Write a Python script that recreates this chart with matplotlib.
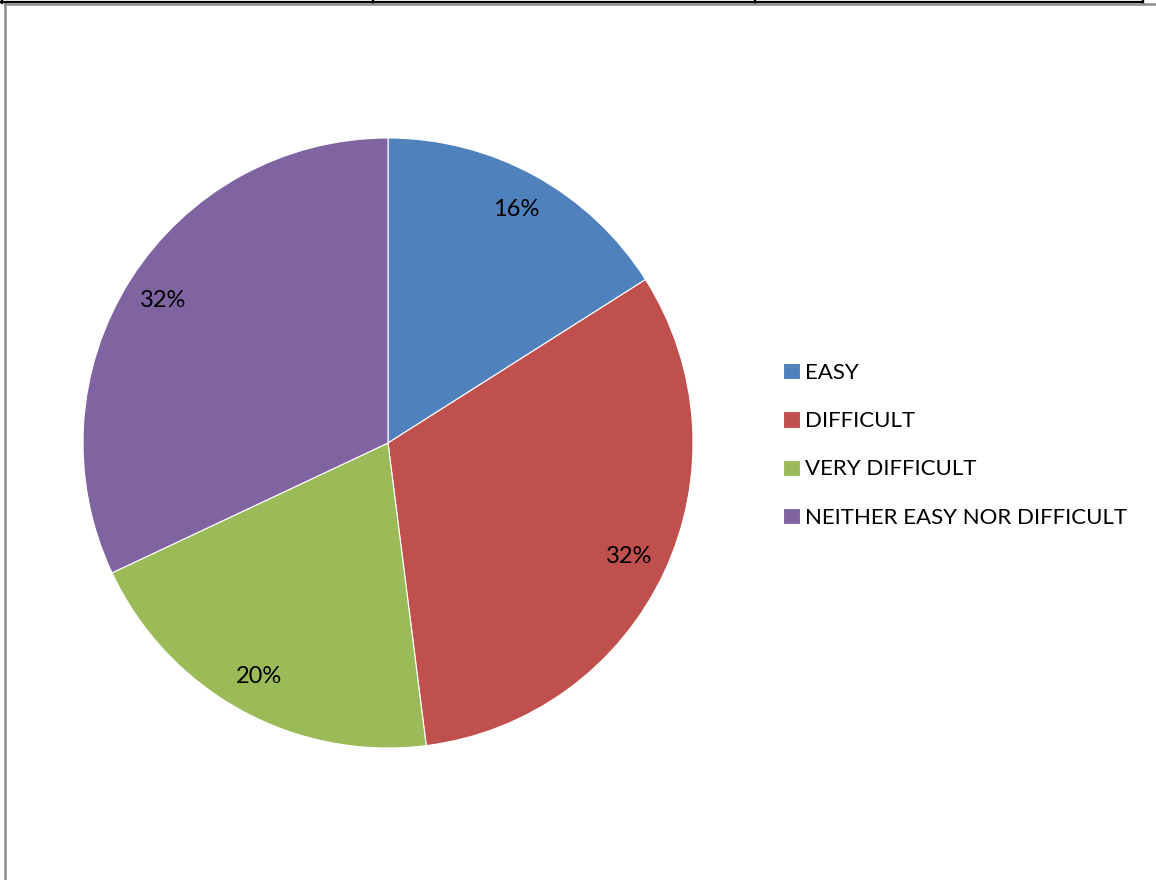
import matplotlib
matplotlib.use("Agg")
import matplotlib.pyplot as plt
from matplotlib.lines import Line2D

W, H = 1156, 880

categories = ["EASY", "DIFFICULT", "VERY DIFFICULT", "NEITHER EASY NOR DIFFICULT"]
shares = [16, 32, 20, 32]
colors = ["#4F81BD", "#C0504D", "#9BBB59", "#8064A2"]

plt.rcParams["font.family"] = ["Lato", "DejaVu Sans"]

fig = plt.figure(figsize=(W / 100, H / 100), dpi=100)
fig.patch.set_facecolor("white")


def px(x, y):
    """pixel (from top-left) -> figure fraction"""
    return x / W, 1 - y / H


# table cell edges along the top
for seg in [((0, 2), (1143, 2)), ((1.5, 0), (1.5, 3)), ((373, 0), (373, 3)),
            ((755, 0), (755, 3)), ((1143, 0), (1143, 3))]:
    (x0, y0), (x1, y1) = px(*seg[0]), px(*seg[1])
    fig.add_artist(Line2D([x0, x1], [y0, y1], color="black", lw=1.6))
# grey frame of the chart area
for seg in [((5, 4.5), (W, 4.5)), ((5, 4.5), (5, H))]:
    (x0, y0), (x1, y1) = px(*seg[0]), px(*seg[1])
    fig.add_artist(Line2D([x0, x1], [y0, y1], color="#8c8c8c", lw=1.8))

cx, cy, r = 388, 443, 305
ax = fig.add_axes([(cx - r) / W, (H - cy - r) / H, 2 * r / W, 2 * r / H])
wedges, texts, autotexts = ax.pie(
    shares, colors=colors, startangle=90, counterclock=False,
    autopct=lambda p: f"{p:.0f}%", pctdistance=0.875,
    wedgeprops=dict(edgecolor="white", linewidth=0.8),
    textprops=dict(fontsize=17, color="black"),
)
ax.set_xlim(-1, 1)
ax.set_ylim(-1, 1)
ax.set_aspect("auto")
ax.axis("off")

lx, ly = px(783, 363)
fig.legend(wedges, categories, loc="upper left", bbox_to_anchor=(lx, ly),
           frameon=False, fontsize=16, handlelength=0.75, handleheight=0.75,
           handletextpad=0.25, labelspacing=1.27, borderpad=0, borderaxespad=0)

fig.savefig("out.png", dpi=100)
